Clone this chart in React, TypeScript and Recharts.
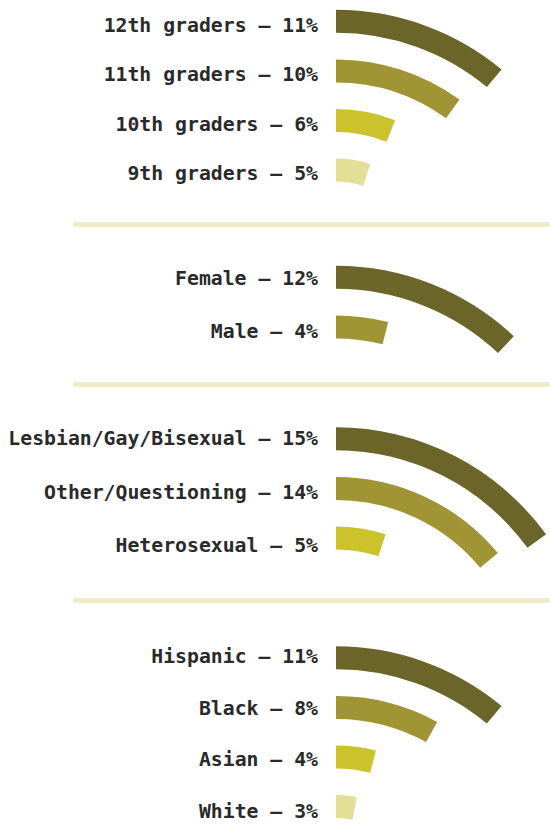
import { RadialBarChart, RadialBar, PolarAngleAxis, PolarRadiusAxis, Cell, LabelList } from 'recharts';

const gradeNames = ['12th graders', '11th graders', '10th graders', '9th graders'];
const gradeValues = [11, 10, 6, 5];

const sexNames = ['Female', 'Male'];
const sexValues = [12, 4];

const orientationNames = ['Lesbian/Gay/Bisexual', 'Other/Questioning', 'Heterosexual'];
const orientationValues = [15, 14, 5];

const raceNames = ['Hispanic', 'Black', 'Asian', 'White'];
const raceValues = [11, 8, 4, 3];

// outermost ring first
const COLORS = ['#6b652a', '#a09434', '#ccc22e', '#e3df97'];

const WIDTH = 550;
const HEIGHT = 824;
const CX = 336;
const BAND = 49.6; // radial step per ring
const OUTER = 273.3;
const BAR = 23;
const FONT_SIZE = 19.8;

// cy = ring center, labelShift/labelStep = how the text list sits next to the rings
const groups = [
  { names: gradeNames, values: gradeValues, cy: 269.5, labelShift: 3, labelStep: 49.6 },
  { names: sexNames, values: sexValues, cy: 525.5, labelShift: 0.5, labelStep: 53 },
  { names: orientationNames, values: orientationValues, cy: 687, labelShift: -1, labelStep: 53.5 },
  { names: raceNames, values: raceValues, cy: 906, labelShift: -2, labelStep: 51.7 },
];

const separators = [222, 382, 598];

function buildRows(names: string[], values: number[]) {
  // recharts puts the first category on the inner ring, so flip
  return names
    .map((name, i) => ({ name, value: values[i], label: `${name} – ${values[i]}%`, color: COLORS[i] }))
    .reverse();
}

function makeLabel(count: number, shift: number, step: number) {
  return (props: any) => {
    const { viewBox, value, index } = props;
    if (!viewBox) return null;
    const { cx, cy, innerRadius, outerRadius } = viewBox;
    const rank = count - 1 - index;
    const mid = cy - (innerRadius + outerRadius) / 2 + shift + rank * (step - BAND);
    return (
      <text
        x={cx - 18}
        y={mid + FONT_SIZE * 0.364}
        textAnchor="end"
        fill="#2a2a2a"
        style={{ fontFamily: "'DejaVu Sans Mono', monospace", fontWeight: 700, fontSize: FONT_SIZE }}
      >
        {value}
      </text>
    );
  };
}

function Group({ names, values, cy, labelShift, labelStep }: { names: string[]; values: number[]; cy: number; labelShift: number; labelStep: number }) {
  const rows = buildRows(names, values);
  return (
    <div style={{ position: 'absolute', left: 0, top: 0 }}>
      <RadialBarChart
        width={WIDTH}
        height={HEIGHT}
        data={rows}
        cx={CX}
        cy={cy}
        innerRadius={OUTER - rows.length * BAND}
        outerRadius={OUTER}
        startAngle={90}
        endAngle={-270}
        barSize={BAR}
        margin={{ top: 0, right: 0, bottom: 0, left: 0 }}
      >
        <PolarAngleAxis type="number" domain={[0, 100]} tick={false} axisLine={false} />
        <PolarRadiusAxis type="category" dataKey="name" tick={false} axisLine={false} />
        <RadialBar dataKey="value" isAnimationActive={false}>
          {rows.map(r => (
            <Cell key={r.name} fill={r.color} />
          ))}
          <LabelList dataKey="label" content={makeLabel(rows.length, labelShift, labelStep)} />
        </RadialBar>
      </RadialBarChart>
    </div>
  );
}

export default function App() {
  return (
    <div style={{ position: 'absolute', left: 0, top: 0, width: WIDTH, height: HEIGHT, background: '#fff', overflow: 'hidden' }}>
      {separators.map(y => (
        <div
          key={y}
          style={{ position: 'absolute', left: 73, top: y, width: WIDTH - 73, height: 5, background: '#eeedc8', borderRadius: 2 }}
        />
      ))}
      {groups.map((g, i) => (
        <Group key={i} {...g} />
      ))}
    </div>
  );
}
